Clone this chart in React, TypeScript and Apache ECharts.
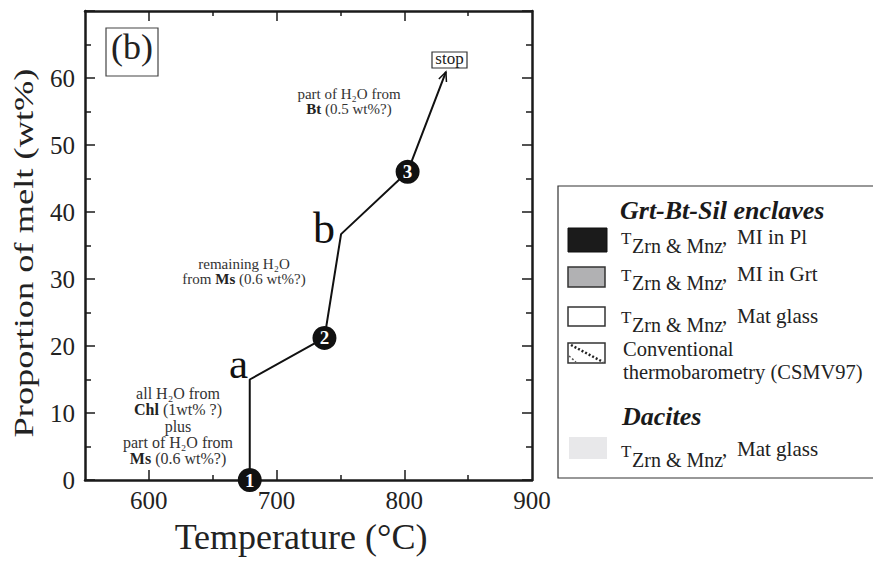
import React, { useEffect, useRef } from 'react';
import * as echarts from 'echarts';

// ---- data ----
const pathT = [679, 679, 737.5, 750.5, 802.6, 832.6];
const pathMelt = [0, 15, 21.2, 36.7, 46, 60.9];
const stageT = [679, 737.5, 802.6];
const stageMelt = [0, 21.2, 46];
const stageLabels = ['1', '2', '3'];
const xTickLabels = [600, 700, 800, 900];
const xMajorTicks = [600, 700, 800];
const xMinorTicks = [650, 750, 850];
const yTickLabels = [0, 10, 20, 30, 40, 50, 60];

const FF = '"Liberation Serif", "Times New Roman", serif';
const AX = '#1a1a1a';

const txt = (x: number, y: number, text: string, size: number, extra: any = {}, el: any = {}) => ({
  type: 'text',
  x,
  y,
  silent: true,
  ...el,
  style: {
    text,
    fontSize: size,
    fontFamily: FF,
    fill: '#222',
    align: 'left',
    verticalAlign: 'middle',
    ...extra,
  },
});

const annRich = (size: number, lh: number) => ({
  n: { fontSize: size, fontFamily: FF, lineHeight: lh, fill: '#333', color: '#333' },
  b: { fontSize: size, fontFamily: FF, fontWeight: 'bold', lineHeight: lh, fill: '#222', color: '#222' },
});

// base = baseline of main text, sub = baseline of subscript
const legendRow = (base: number, sub: number, label: string, sw: any) => [
  { type: 'rect', silent: true, shape: { x: sw.x, y: sw.y, width: sw.w, height: sw.h }, style: { fill: sw.fill, stroke: sw.stroke, lineWidth: sw.lw } },
  txt(621, base - 5.7, 'T', 17),
  txt(632, sub - 6.8, 'Zrn & Mnz', 20),
  txt(722, base - 7.5, ',', 21),
  txt(737, base - 7.5, label, 21),
];

export default function App() {
  const ref = useRef<HTMLDivElement>(null);
  useEffect(() => {
    if (!ref.current) return;
    const chart = echarts.init(ref.current, undefined, { renderer: 'svg' });
    const lineStyle = { color: AX, width: 2.5 };
    const tickStyle = { color: AX, width: 1.5 };
    const xBase = {
      type: 'value',
      min: 550,
      max: 900,
      splitLine: { show: false },
      minorSplitLine: { show: false },
    };
    const option: any = {
      animation: false,
      grid: { left: 85, top: 11, right: 341, bottom: 81, containLabel: false },
      xAxis: [
        {
          ...xBase,
          position: 'bottom',
          axisLine: { show: true, onZero: false, lineStyle },
          axisTick: { show: true, inside: true, length: 10, customValues: xMajorTicks, lineStyle: tickStyle },
          axisLabel: { show: true, customValues: xTickLabels, fontSize: 25, fontFamily: FF, color: '#222', margin: 8 },
        },
        {
          ...xBase,
          position: 'top',
          axisLine: { show: true, onZero: false, lineStyle },
          axisTick: { show: true, inside: true, length: 10, customValues: xMajorTicks, lineStyle: tickStyle },
          axisLabel: { show: false },
        },
        {
          ...xBase,
          position: 'bottom',
          axisLine: { show: false, onZero: false },
          axisTick: { show: true, inside: true, length: 5, customValues: xMinorTicks, lineStyle: tickStyle },
          axisLabel: { show: false },
        },
        {
          ...xBase,
          position: 'top',
          axisLine: { show: false, onZero: false },
          axisTick: { show: true, inside: true, length: 5, customValues: xMinorTicks, lineStyle: tickStyle },
          axisLabel: { show: false },
        },
      ],
      yAxis: [
        {
          type: 'value',
          position: 'left',
          min: 0,
          max: 70,
          interval: 10,
          axisLine: { show: true, onZero: false, lineStyle },
          axisTick: { show: true, inside: true, length: 10, lineStyle: tickStyle },
          minorTick: { show: true, splitNumber: 2, length: 6, lineStyle: tickStyle },
          axisLabel: {
            fontSize: 25,
            fontFamily: FF,
            color: '#222',
            margin: 10,
            formatter: (v: number) => (yTickLabels.includes(v) ? String(v) : ''),
          },
          splitLine: { show: false },
          minorSplitLine: { show: false },
        },
        {
          type: 'value',
          position: 'right',
          min: 0,
          max: 70,
          interval: 10,
          axisLine: { show: true, onZero: false, lineStyle },
          axisTick: { show: true, inside: true, length: 10, lineStyle: tickStyle },
          minorTick: { show: true, splitNumber: 2, length: 6, lineStyle: tickStyle },
          axisLabel: { show: false },
          splitLine: { show: false },
          minorSplitLine: { show: false },
        },
      ],
      series: [
        {
          type: 'line',
          data: pathT.map((t, i) => [t, pathMelt[i]]),
          symbol: 'none',
          lineStyle: { color: '#111', width: 2 },
          z: 3,
        },
        {
          type: 'custom',
          data: [[pathT[pathT.length - 1], pathMelt[pathMelt.length - 1]]],
          z: 3,
          renderItem: (params: any, api: any) => {
            const n = pathT.length;
            const tip = api.coord([api.value(0), api.value(1)]);
            const prev = api.coord([pathT[n - 2], pathMelt[n - 2]]);
            const ang = Math.atan2(tip[1] - prev[1], tip[0] - prev[0]);
            const L = 10;
            const spread = 0.42;
            const p1 = [tip[0] - L * Math.cos(ang - spread), tip[1] - L * Math.sin(ang - spread)];
            const p2 = [tip[0] - L * Math.cos(ang + spread), tip[1] - L * Math.sin(ang + spread)];
            return {
              type: 'polyline',
              shape: { points: [p1, tip, p2] },
              style: { stroke: '#111', lineWidth: 1.5, fill: 'none' },
            };
          },
        },
        {
          type: 'scatter',
          data: stageT.map((t, i) => [t, stageMelt[i]]),
          symbol: 'circle',
          symbolSize: 24,
          clip: false,
          itemStyle: { color: '#111', opacity: 1 },
          z: 5,
          label: {
            show: true,
            position: 'inside',
            formatter: (p: any) => stageLabels[p.dataIndex],
            color: '#fff',
            fontSize: 19,
            fontWeight: 'bold',
            fontFamily: FF,
            textBorderColor: '#111',
            textBorderWidth: 1,
          },
        },
      ],
      graphic: [
        // panel label
        { type: 'rect', silent: true, shape: { x: 106, y: 28, width: 52, height: 48 }, style: { fill: '#fff', stroke: '#444', lineWidth: 1.2 } },
        txt(132, 47, '(b)', 36, { align: 'center' }),
        // stop box
        { type: 'rect', silent: true, shape: { x: 432, y: 52, width: 35, height: 16 }, style: { fill: '#fff', stroke: '#333', lineWidth: 1.2 } },
        txt(449.5, 58, 'stop', 17, { align: 'center' }),
        // a / b letters
        txt(229, 363, 'a', 43, { fill: '#111' }),
        txt(313, 228.5, 'b', 44, { fill: '#111' }),
        // annotations
        txt(349, 101, '{n|part of H₂O from}\n{b|Bt}{n| (0.5 wt%?)}', 15, { align: 'center', rich: annRich(15, 15) }),
        txt(244, 271, '{n|remaining H₂O}\n{n|from }{b|Ms}{n| (0.6 wt%?)}', 15, { align: 'center', rich: annRich(15, 15) }),
        txt(
          178,
          426,
          '{n|all H₂O from}\n{b|Chl}{n| (1wt% ?)}\n{n|plus}\n{n|part of H₂O from}\n{b|Ms}{n| (0.6 wt%?)}',
          16,
          { align: 'center', rich: annRich(16, 16.3) }
        ),
        // axis titles
        txt(301, 537, 'Temperature (°C)', 36, { align: 'center', fill: '#222' }),
        txt(24, 253, 'Proportion of melt (wt%)', 28, { align: 'center', fill: '#222' }, { rotation: Math.PI / 2, scaleX: 1.3 }),
        // legend box
        { type: 'rect', silent: true, shape: { x: 558, y: 186, width: 330, height: 292 }, style: { fill: '#fff', stroke: '#333', lineWidth: 1.2 } },
        txt(620, 210, 'Grt-Bt-Sil enclaves', 26, { fontWeight: 'bold', fontStyle: 'italic', fill: '#1a1a1a' }),
        ...legendRow(244, 252.3, 'MI in Pl', { x: 568, y: 228, w: 39, h: 24, fill: '#1b1b1b', stroke: '#111', lw: 1 }),
        ...legendRow(281.5, 289.5, 'MI in Grt', { x: 568, y: 267, w: 37, h: 20, fill: '#b1b1b3', stroke: '#333', lw: 1.5 }),
        ...legendRow(323.5, 331.5, 'Mat glass', { x: 568, y: 307, w: 37, h: 19, fill: '#fff', stroke: '#333', lw: 1.5 }),
        { type: 'rect', silent: true, shape: { x: 568, y: 343, width: 37, height: 20 }, style: { fill: '#fff', stroke: '#333', lineWidth: 1.5 } },
        { type: 'line', silent: true, shape: { x1: 571, y1: 345, x2: 603, y2: 362 }, style: { stroke: '#222', lineWidth: 2.5, lineDash: [2, 2] } },
        { type: 'line', silent: true, shape: { x1: 569, y1: 356, x2: 576, y2: 362 }, style: { stroke: '#555', lineWidth: 1.5, lineDash: [2, 2] } },
        txt(623, 360.5, 'Conventional\nthermobarometry (CSMV97)', 20.5, { lineHeight: 22.5 }),
        txt(622, 416, 'Dacites', 26, { fontWeight: 'bold', fontStyle: 'italic', fill: '#1a1a1a' }),
        ...legendRow(456.7, 467, 'Mat glass', { x: 569, y: 437, w: 38, h: 22, fill: '#e8e8ea', stroke: null, lw: 0 }),
      ],
    };
    chart.setOption(option);
    return () => chart.dispose();
  }, []);
  return <div ref={ref} style={{ position: 'absolute', left: 0, top: 0, width: 873, height: 561 }} />;
}
